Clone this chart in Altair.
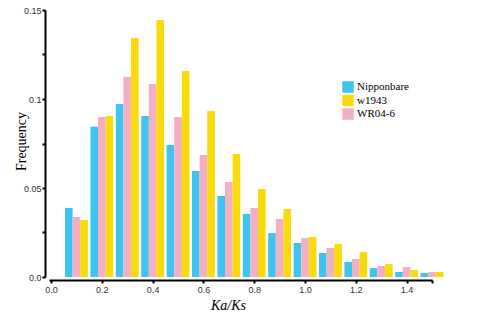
import altair as alt
import pandas as pd

bins = [0.1, 0.2, 0.3, 0.4, 0.5, 0.6, 0.7, 0.8, 0.9, 1.0, 1.1, 1.2, 1.3, 1.4, 1.5]
nipponbare = [0.0388, 0.0844, 0.0972, 0.0904, 0.0742, 0.0596, 0.0455, 0.0354, 0.0247,
              0.0191, 0.0135, 0.0084, 0.0050, 0.0028, 0.0022]
wr04_6 = [0.0337, 0.0899, 0.1124, 0.1084, 0.0899, 0.0685, 0.0534, 0.0388, 0.0326,
          0.0219, 0.0163, 0.0101, 0.0062, 0.0056, 0.0028]
w1943 = [0.0320, 0.0904, 0.1343, 0.1444, 0.1157, 0.0933, 0.0691, 0.0494, 0.0382,
         0.0225, 0.0185, 0.0140, 0.0073, 0.0039, 0.0028]

series_names = ["Nipponbare", "w1943", "WR04-6"]
series_colors = ["#3fc4f0", "#f9db0b", "#f3afc3"]
bar_order = {"Nipponbare": 0, "WR04-6": 1, "w1943": 2}

rows = []
for name, vals in [("Nipponbare", nipponbare), ("WR04-6", wr04_6), ("w1943", w1943)]:
    for b, v in zip(bins, vals):
        rows.append({"bin": b, "freq": v, "series": name, "idx": bar_order[name]})
df = pd.DataFrame(rows)

x_ticks = [0.0, 0.2, 0.4, 0.6, 0.8, 1.0, 1.2, 1.4, 1.5]
y_ticks = [0.0, 0.025, 0.05, 0.075, 0.1, 0.125, 0.15]

chart = alt.Chart(df).transform_calculate(
    x0="datum.bin - 0.045 + datum.idx * 0.03",
    x1="datum.bin - 0.015 + datum.idx * 0.03",
).mark_bar(opacity=1).encode(
    x=alt.X("x0:Q",
            scale=alt.Scale(domain=[-0.008, 1.5], nice=False, zero=False),
            axis=alt.Axis(values=x_ticks,
                          labelExpr="datum.value > 1.45 ? '' : format(datum.value, '.1f')",
                          title="Ka/Ks", titleFont="Liberation Serif", titleFontStyle="italic",
                          titleFontWeight="normal", titleFontSize=14, titleColor="black",
                          titleX=179, titleY=25, titleBaseline="middle",
                          labelFont="Liberation Sans", labelFontSize=9, labelColor="#333333",
                          labelPadding=2, tickSize=3, tickWidth=2, tickColor="black",
                          domainColor="black", domainWidth=2, grid=False, offset=3)),
    x2="x1:Q",
    y=alt.Y("freq:Q",
            scale=alt.Scale(domain=[0, 0.15], nice=False),
            axis=alt.Axis(values=y_ticks,
                          labelExpr="datum.value == 0 ? '0.0' : (abs(datum.value*40 - round(datum.value*40)) < 0.01 && round(datum.value*40) % 2 == 1 ? '' : '' + datum.value)",
                          title="Frequency", titleFont="Liberation Serif",
                          titleFontWeight="normal", titleFontSize=14, titleColor="black",
                          titleX=-24, titleY=131, titleBaseline="middle",
                          labelFont="Liberation Sans", labelFontSize=9, labelColor="#333333",
                          labelPadding=1, tickSize=3, tickWidth=2, tickColor="black",
                          domainColor="black", domainWidth=2, grid=False, offset=4)),
    y2=alt.datum(0),
    color=alt.Color("series:N",
                    scale=alt.Scale(domain=series_names, range=series_colors),
                    legend=alt.Legend(orient="none", legendX=293, legendY=71, title=None,
                                      symbolType="square", symbolSize=132, symbolStrokeWidth=0,
                                      labelFont="Liberation Serif", labelFontSize=11,
                                      labelColor="black", labelOffset=3, rowPadding=1.5,
                                      padding=0)),
).properties(
    width=383, height=267,
    background="white",
    autosize=alt.AutoSizeParams(type="none"),
    padding={"left": 49, "top": 10, "right": 51, "bottom": 56},
).configure_view(stroke=None, strokeWidth=0)

chart.save("out.html", embed_options={"renderer": "svg", "actions": False})
